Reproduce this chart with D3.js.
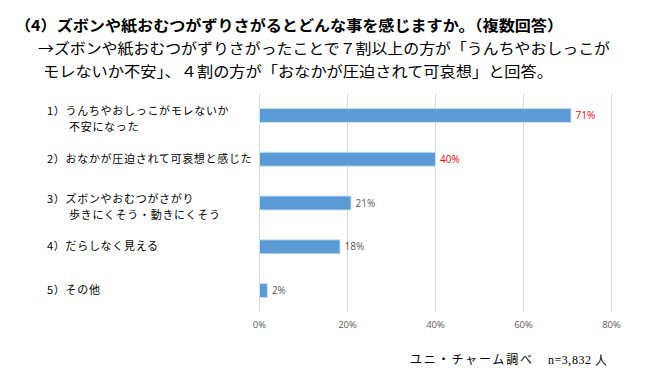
<!DOCTYPE html>
<html><head><meta charset="utf-8">
<script src="https://cdn.jsdelivr.net/npm/d3@7"></script>
<style>
body{margin:0;background:#fff;}
svg{display:block;}
</style></head>
<body>
<script>
const categories = [
  ["1）うんちやおしっこがモレないか", "不安になった"],
  ["2）おなかが圧迫されて可哀想と感じた"],
  ["3）ズボンやおむつがさがり", "歩きにくそう・動きにくそう"],
  ["4）だらしなく見える"],
  ["5）その他"]
];
const values = [70.8, 40.0, 20.8, 18.3, 1.8];
const valueLabels = ["71%", "40%", "21%", "18%", "2%"];
const highlight = [true, true, false, false, false];
const xTicks = [0, 20, 40, 60, 80];
const titleLines = [
  "（4）ズボンや紙おむつがずりさがるとどんな事を感じますか。（複数回答）",
  "→ズボンや紙おむつがずりさがったことで７割以上の方が「うんちやおしっこが",
  "モレないか不安」、４割の方が「おなかが圧迫されて可哀想」と回答。"
];
const sourceJa = "ユニ・チャーム調べ";
const sourceN = "n=3,832 人";

const W = 651, H = 382;
const svg = d3.select("body").append("svg").attr("width", W).attr("height", H);
const jp = "'Noto Sans CJK JP', sans-serif";

// Titles
const titleSpec = [
  {x: 15, y: 30.5, len: 548, bold: true},
  {x: 38, y: 53.5, len: 572, bold: false},
  {x: 43, y: 76.5, len: 510, bold: false}
];
titleLines.forEach((t, i) => {
  const s = titleSpec[i];
  svg.append("text").attr("x", s.x).attr("y", s.y)
    .attr("font-family", jp).attr("font-weight", s.bold ? "bold" : "normal").attr("font-size", 15)
    .attr("textLength", s.len).attr("lengthAdjust", "spacingAndGlyphs")
    .attr("fill", "#000").text(t);
});

// Scales
const x = d3.scaleLinear().domain([0, 80]).range([259, 611]);
const y = d3.scaleBand().domain(d3.range(categories.length)).range([93, 312]).paddingInner(0.68).paddingOuter(0.34);

// Gridlines
svg.append("g").selectAll("line").data(xTicks).join("line")
  .attr("x1", d => x(d) + 0.5).attr("x2", d => x(d) + 0.5)
  .attr("y1", 93).attr("y2", 312)
  .attr("stroke", "#d9d9d9").attr("stroke-width", 1);

// Axis tick labels
const xAxis = d3.axisBottom(x).tickValues(xTicks).tickFormat(d => d + "%").tickSize(0).tickPadding(0);
const ax = svg.append("g").attr("transform", "translate(0,321)").call(xAxis);
ax.select(".domain").remove();
ax.selectAll("text").attr("font-family", "'Open Sans', sans-serif").attr("font-size", 9.5).attr("fill", "#595959");

// Bars
svg.append("g").selectAll("rect").data(values).join("rect")
  .attr("x", x(0) + 0.5)
  .attr("y", (d, i) => y(i) + 0.5)
  .attr("width", d => x(d) - x(0))
  .attr("height", y.bandwidth())
  .attr("fill", "#5B9BD5")
  .attr("stroke", "#cfe0f1").attr("stroke-width", 1);

// Value labels
svg.append("g").selectAll("text").data(values).join("text")
  .attr("x", d => x(d) + 5)
  .attr("y", (d, i) => y(i) + y.bandwidth() / 2 + 4)
  .attr("font-family", "'Open Sans', sans-serif").attr("font-size", 10)
  .attr("fill", (d, i) => highlight[i] ? "#FF0000" : "#595959")
  .text((d, i) => valueLabels[i]);

// Category labels
const lblX = 47;
categories.forEach((lines, i) => {
  const cy = y(i) + y.bandwidth() / 2;
  const yStart = lines.length === 1 ? cy + 4 : cy;
  lines.forEach((t, j) => {
    svg.append("text")
      .attr("x", j === 0 ? lblX : lblX + 22)
      .attr("y", yStart + j * 16)
      .attr("font-family", jp).attr("font-size", 11).attr("letter-spacing", 0.7)
      .attr("fill", "#000")
      .text(t);
  });
});

// Source
svg.append("text").attr("x", 410).attr("y", 364)
  .attr("font-family", jp).attr("font-size", 12).attr("fill", "#000")
  .attr("textLength", 122).attr("lengthAdjust", "spacing")
  .text(sourceJa);
svg.append("text").attr("x", 548).attr("y", 364)
  .attr("font-family", "'Liberation Serif', serif").attr("font-size", 12).attr("fill", "#000")
  .attr("textLength", 59).attr("lengthAdjust", "spacing")
  .text(sourceN);
</script>
</body></html>
